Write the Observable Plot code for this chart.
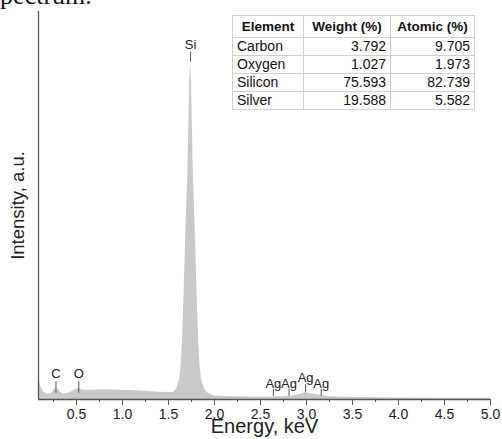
<!DOCTYPE html>
<html><head><meta charset="utf-8">
<script src="https://cdn.jsdelivr.net/npm/d3@7"></script>
<script src="https://cdn.jsdelivr.net/npm/@observablehq/plot@0.6"></script>
<style>
body{margin:0;width:502px;height:439px;overflow:hidden;position:relative;background:#fff;font-family:"Liberation Sans",Arial,sans-serif;}
#title{position:absolute;left:-10px;top:-19px;font-family:"Liberation Serif",serif;font-size:26px;color:#111;white-space:nowrap;}
#chart{position:absolute;left:0;top:0;}
#tbl{position:absolute;left:232px;top:15px;border-collapse:collapse;font-size:14px;color:#111;background:#fff;border:1px solid #888;}
#tbl td,#tbl th{border:1px solid #d0d0d0;padding:0 4px;height:17px;line-height:17px;}
#tbl th{height:21px;text-align:center;font-weight:bold;font-size:13.5px;}
#tbl td.n{text-align:right;}
</style></head><body>
<div id="title">spectrum.</div>
<div id="chart"></div>
<table id="tbl"></table>
<script>
// Spectrum (energy keV, intensity a.u.)
const energy = [0.09,0.11,0.14,0.18,0.22,0.25,0.28,0.31,0.35,0.40,0.45,0.50,0.53,0.57,0.65,0.80,1.00,1.20,1.40,1.52,1.56,1.59,1.62,1.635,1.65,1.665,1.68,1.695,1.71,1.72,1.73,1.74,1.75,1.76,1.77,1.785,1.80,1.815,1.83,1.845,1.86,1.89,1.92,1.96,2.00,2.20,2.50,2.70,2.85,2.93,2.99,3.05,3.15,3.25,3.50,4.00,4.50,5.00];
const intensity = [5.4,3.5,2.0,1.4,1.5,2.2,3.1,2.3,1.5,1.5,2.0,2.7,2.8,2.4,2.4,2.5,2.4,2.2,1.9,1.8,1.9,2.8,5.0,8.0,14,24,36,48,58,70,82,86.6,82,70,58,48,36,24,14,8.0,5.0,2.8,1.8,1.2,0.9,0.7,0.6,0.7,0.9,1.3,1.8,1.4,1.1,0.7,0.5,0.4,0.35,0.3];

// Peak annotations
const peakNames = ["C","O","Si","Ag","Ag","Ag","Ag"];
const peakEnergies = [0.277,0.525,1.74,2.64,2.81,2.99,3.16];
const peakLineLow = [1.6,1.6,87.0,0.8,0.8,1.9,0.8];
const peakLineHigh = [4.6,4.6,89.5,2.6,2.6,3.9,2.6];
const peakLabelY = [6.7,6.7,91.3,4.1,4.1,5.7,4.1];

// Axis ticks
const majorTicks = [0.5,1.0,1.5,2.0,2.5,3.0,3.5,4.0,4.5,5.0];
const minorTicks = [0.25,0.75,1.25,1.75,2.25,2.75,3.25,3.75,4.25,4.75];

// Table
const tableHeader = ["Element","Weight (%)","Atomic (%)"];
const elements = ["Carbon","Oxygen","Silicon","Silver"];
const weightPct = ["3.792","1.027","75.593","19.588"];
const atomicPct = ["9.705","1.973","82.739","5.582"];

const spectrum = energy.map((e,i)=>({e, v: intensity[i]}));
const peaks = peakNames.map((n,i)=>({n, e: peakEnergies[i], lo: peakLineLow[i], hi: peakLineHigh[i], ly: peakLabelY[i]}));

const xMin = 0.087;
const plot = Plot.plot({
  width: 502, height: 439,
  marginLeft: 38, marginRight: 12, marginTop: 11, marginBottom: 40,
  x: {domain: [xMin, 5.0], label: null},
  y: {domain: [0, 100], axis: null},
  style: {fontFamily: "'Liberation Sans', Arial, sans-serif", color: "#222", background: "transparent"},
  marks: [
    Plot.areaY(spectrum, {x: "e", y: "v", fill: "#c9c9c9", curve: "linear"}),
    Plot.ruleX(peaks, {x: "e", y1: "lo", y2: "hi", stroke: "#555", strokeWidth: 1}),
    Plot.text(peaks, {x: "e", y: "ly", text: "n", fontSize: 13, fill: "#222"}),
    Plot.ruleY([0], {stroke: "#555", strokeWidth: 1.3}),
    Plot.ruleX([xMin], {y1: 0, y2: 100, stroke: "#555", strokeWidth: 1.3}),
    Plot.axisX(minorTicks, {tickSize: 3, tickFormat: () => "", stroke: "#555", label: null}),
    Plot.axisX(majorTicks, {tickSize: 6, tickPadding: 4, fontSize: 14, tickFormat: d => d.toFixed(1), stroke: "#555", fill: "#222", label: null}),
    Plot.text(["Energy, keV"], {frameAnchor: "bottom", dy: 33, fontSize: 20, fill: "#222"}),
    Plot.text(["Intensity, a.u."], {frameAnchor: "left", dx: -20, rotate: -90, textAnchor: "middle", fontSize: 18.5, fill: "#222"})
  ]
});
document.getElementById("chart").appendChild(plot);

const tbl = document.getElementById("tbl");
const colW = [71, 87, 84];
let html = "<tr>" + tableHeader.map((h,i)=>`<th style="width:${colW[i]-9}px">${h}</th>`).join("") + "</tr>";
elements.forEach((el,i)=>{
  html += `<tr><td>${el}</td><td class="n">${weightPct[i]}</td><td class="n">${atomicPct[i]}</td></tr>`;
});
tbl.innerHTML = html;
</script>
</body></html>
